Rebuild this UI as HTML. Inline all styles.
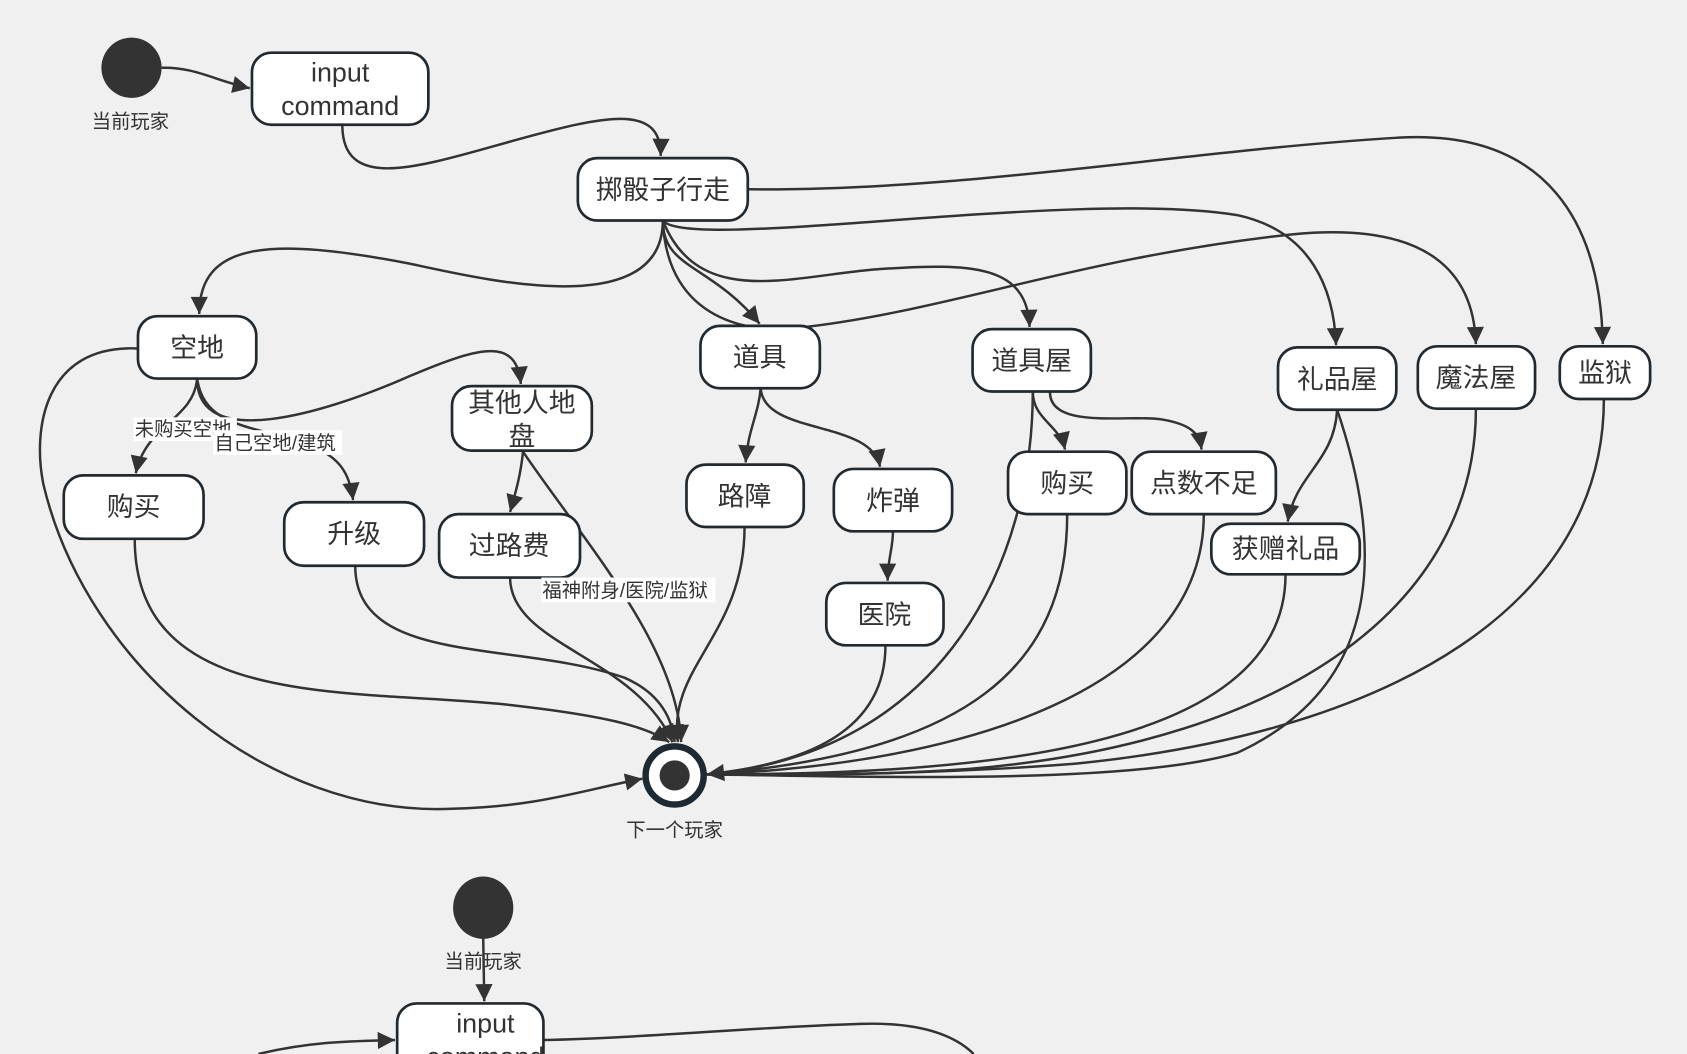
<!DOCTYPE html>
<html><head><meta charset="utf-8"><style>
html,body{margin:0;padding:0;background:#f0f0f0;}
svg{display:block;}
text{font-family:"Liberation Sans","Noto Sans CJK SC",sans-serif;fill:#333;}
.n{fill:#fff;stroke:#222a30;stroke-width:2.5;}
.e{fill:none;stroke:#333;stroke-width:2.3;}
.t{font-size:25px;text-anchor:middle;}
.l{font-size:18px;}
</style></head><body>
<svg width="1687" height="1054" viewBox="0 0 1568 980" xmlns="http://www.w3.org/2000/svg">
<defs>
<marker id="b" viewBox="0 0 10 10" refX="10" refY="5" markerWidth="18" markerHeight="16" markerUnits="userSpaceOnUse" orient="auto"><path d="M0,0L10,5L0,10z" fill="#333"/></marker></defs>

<g class="e">
<path d="M150,63 C180,62 200,75 232,82" marker-end="url(#b)"/>
<path d="M318,116 C318,180 390,155 480,130 C560,108 615,95 614,145" marker-end="url(#b)"/>
<path d="M616,205 C616,300 450,260 380,245 C250,220 185,225 185,292" marker-end="url(#b)"/>
<path d="M616,205 C616,250 660,245 706,301" marker-end="url(#b)"/>
<path d="M616,205 C650,290 740,255 820,250 C900,245 955,245 957,304" marker-end="url(#b)"/>
<path d="M616,205 C640,235 1000,175 1150,200 C1220,215 1240,270 1242,321" marker-end="url(#b)"/>
<path d="M616,205 C620,300 700,310 740,305 C880,290 1000,240 1200,218 C1330,205 1370,255 1372,320" marker-end="url(#b)"/>
<path d="M695,176 C900,178 1100,140 1300,128 C1440,120 1488,210 1490,320" marker-end="url(#b)"/>
<path d="M183,352 C183,420 300,385 380,350 C450,320 480,315 484,357" marker-end="url(#b)"/>
<path d="M183,352 C180,390 135,395 126,440" marker-end="url(#b)"/>
<path d="M183,352 C190,400 240,395 290,415 C315,425 325,440 328,465" marker-end="url(#b)"/>
<path d="M486,420 C484,440 480,455 474,476" marker-end="url(#b)"/>
<path d="M707,361 C705,385 695,400 693,430" marker-end="url(#b)"/>
<path d="M707,361 C710,405 810,390 818,434" marker-end="url(#b)"/>
<path d="M830,494 C830,510 825,520 825,540" marker-end="url(#b)"/>
<path d="M960,364 C960,390 985,395 990,418" marker-end="url(#b)"/>
<path d="M976,364 C975,400 1050,385 1080,390 C1110,395 1115,405 1117,418" marker-end="url(#b)"/>
<path d="M1243,381 C1240,430 1205,440 1197,485" marker-end="url(#b)"/>
<path d="M128,324 C40,320 30,400 40,450 C80,620 250,760 420,752 C500,750 540,735 597,724" marker-end="url(#b)"/>
<path d="M125,501 C125,660 320,640 470,655 C560,665 600,675 622,690" marker-end="url(#b)"/>
<path d="M330,526 C330,620 480,595 580,630 C615,645 625,670 627,690" marker-end="url(#b)"/>
<path d="M474,537 C474,600 590,610 625,690" marker-end="url(#b)"/>
<path d="M486,420 C540,500 630,600 633,690" marker-end="url(#b)"/>
<path d="M692,490 C692,590 620,620 630,690" marker-end="url(#b)"/>
<path d="M823,600 C823,680 750,710 657,720" marker-end="url(#b)"/>
<path d="M960,364 C960,520 880,700 657,720"/>
<path d="M992,478 C992,620 900,700 657,720"/>
<path d="M1119,478 C1119,640 900,710 657,720"/>
<path d="M1195,534 C1195,700 900,720 657,720"/>
<path d="M1243,381 C1290,520 1280,640 1150,700 C1050,730 800,722 657,720"/>
<path d="M1372,380 C1372,560 1200,690 900,715 C800,722 700,720 657,720"/>
<path d="M1491,371 C1491,560 1300,680 1000,710 C850,722 700,720 657,720"/>
<path d="M449,872 L450,931" marker-end="url(#b)"/>
<path d="M240,980 C290,968 330,968 367,967" marker-end="url(#b)"/>
<path d="M505,967 C600,965 700,955 800,952 C860,950 890,965 905,980"/>
</g>

<circle cx="122" cy="63" r="28" fill="#333"/>
<text x="121" y="119" class="l" text-anchor="middle">当前玩家</text>
<ellipse cx="449" cy="844" rx="28" ry="29" fill="#333"/>
<text x="449" y="900" class="l" text-anchor="middle">当前玩家</text>

<circle cx="627" cy="721" r="27" fill="#fff" stroke="#1e2a33" stroke-width="6"/>
<circle cx="627" cy="721" r="14" fill="#333"/>
<text x="627" y="778" class="l" text-anchor="middle">下一个玩家</text>

<rect class="n" x="234" y="49" width="164" height="67" rx="18"/>
<text class="t" x="316" y="76">input</text><text class="t" x="316" y="107">command</text>
<rect class="n" x="537" y="147" width="158" height="58" rx="18"/><text class="t" x="616" y="185">掷骰子行走</text>
<rect class="n" x="128" y="294" width="110" height="58" rx="18"/><text class="t" x="183" y="332">空地</text>
<rect class="n" x="420" y="359" width="130" height="60" rx="18"/><text class="t" x="485" y="383">其他人地</text><text class="t" x="485" y="414">盘</text>
<rect class="n" x="651" y="303" width="111" height="58" rx="18"/><text class="t" x="706" y="341">道具</text>
<rect class="n" x="904" y="306" width="110" height="58" rx="18"/><text class="t" x="959" y="344">道具屋</text>
<rect class="n" x="1188" y="323" width="110" height="58" rx="18"/><text class="t" x="1243" y="361">礼品屋</text>
<rect class="n" x="1318" y="322" width="109" height="58" rx="18"/><text class="t" x="1372" y="360">魔法屋</text>
<rect class="n" x="1450" y="322" width="84" height="49" rx="18"/><text class="t" x="1492" y="355">监狱</text>
<rect class="n" x="59" y="442" width="130" height="59" rx="18"/><text class="t" x="124" y="480">购买</text>
<rect class="n" x="264" y="467" width="130" height="59" rx="18"/><text class="t" x="329" y="505">升级</text>
<rect class="n" x="408" y="478" width="131" height="59" rx="18"/><text class="t" x="473" y="516">过路费</text>
<rect class="n" x="638" y="432" width="109" height="58" rx="18"/><text class="t" x="692" y="470">路障</text>
<rect class="n" x="775" y="436" width="110" height="58" rx="18"/><text class="t" x="830" y="474">炸弹</text>
<rect class="n" x="768" y="542" width="109" height="58" rx="18"/><text class="t" x="822" y="580">医院</text>
<rect class="n" x="937" y="420" width="110" height="58" rx="18"/><text class="t" x="992" y="458">购买</text>
<rect class="n" x="1052" y="420" width="134" height="58" rx="18"/><text class="t" x="1119" y="458">点数不足</text>
<rect class="n" x="1126" y="487" width="138" height="47" rx="18"/><text class="t" x="1195" y="519">获赠礼品</text>
<rect class="n" x="369" y="933" width="136" height="70" rx="18"/>
<text class="t" x="451" y="960">input</text><text class="t" x="451" y="991">command</text>

<rect x="124" y="388" width="96" height="22" fill="#fff"/><text class="l" x="125" y="405">未购买空地</text>
<rect x="198" y="400" width="120" height="23" fill="#fff"/><text class="l" x="199" y="418">自己空地/建筑</text>
<rect x="503" y="537" width="162" height="23" fill="#fff"/><text class="l" x="504" y="555">福神附身/医院/监狱</text>
</svg>
</body></html>
